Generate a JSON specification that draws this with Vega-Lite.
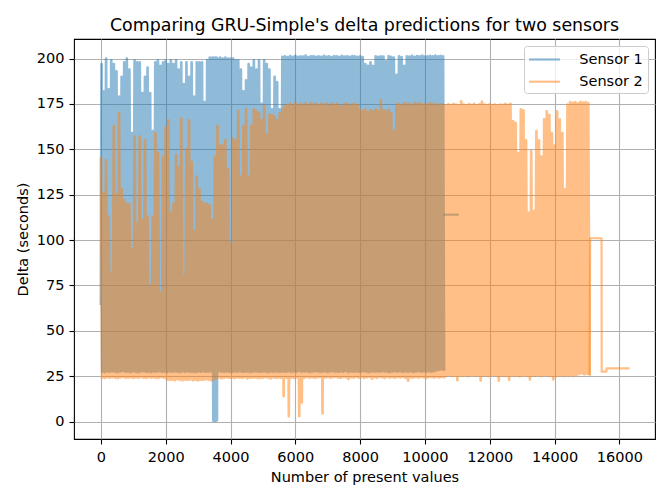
{
  "$schema": "https://vega.github.io/schema/vega-lite/v6.json",
  "width": 581,
  "height": 400,
  "autosize": {"type": "none"},
  "padding": {"left": 74, "top": 39, "right": 13, "bottom": 60},
  "background": "white",
  "title": {
    "text": "Comparing GRU-Simple's delta predictions for two sensors",
    "font": "DejaVu Sans",
    "fontSize": 17.4,
    "fontWeight": "normal",
    "color": "black",
    "anchor": "middle",
    "offset": 5
  },
  "config": {
    "view": {"stroke": "black", "strokeWidth": 1.1},
    "axis": {
      "labelFont": "DejaVu Sans",
      "labelFontSize": 14.5,
      "labelColor": "black",
      "titleFont": "DejaVu Sans",
      "titleFontSize": 14.5,
      "titleFontWeight": "normal",
      "titleColor": "black",
      "tickColor": "black",
      "tickSize": 5,
      "tickWidth": 1.1,
      "labelPadding": 5,
      "domain": false,
      "grid": true,
      "gridColor": "#b0b0b0",
      "gridWidth": 1.1,
      "labelFlush": false,
      "labelOverlap": false
    },
    "axisX": {"titlePadding": 7, "labelPadding": 6},
    "axisY": {"titlePadding": 6},
    "legend": {
      "orient": "top-right",
      "offset": 7,
      "symbolType": "M-2,0H2",
      "symbolSize": 240,
      "symbolOffset": 7,
      "symbolStrokeWidth": 2.17,
      "symbolOpacity": 0.5,
      "labelFont": "DejaVu Sans",
      "labelFontSize": 14.5,
      "labelColor": "black",
      "labelOffset": 25.8,
      "padding": 4.5,
      "rowPadding": 6.2,
      "fillColor": "rgba(255,255,255,0.8)",
      "strokeColor": "#cccccc",
      "cornerRadius": 3
    }
  },
  "datasets": {
    "sensor1": [
      {"x":0,"y":65},{"x":20,"y":197},{"x":40,"y":27.5},
      {"x":80,"y":182},{"x":120,"y":27.3},{"x":160,"y":200},{"x":200,"y":27.6},{"x":240,"y":183},{"x":280,"y":27.4},
      {"x":320,"y":199},{"x":360,"y":27.8},{"x":400,"y":197},{"x":440,"y":27.5},{"x":480,"y":193},{"x":520,"y":27.2},
      {"x":560,"y":179},{"x":600,"y":27.6},{"x":640,"y":190},{"x":680,"y":27.9},{"x":720,"y":198},{"x":760,"y":27.4},
      {"x":800,"y":200},{"x":840,"y":27.5},{"x":880,"y":194},{"x":920,"y":27.3},{"x":960,"y":159},{"x":1000,"y":27.7},
      {"x":1040,"y":199},{"x":1080,"y":27.5},{"x":1120,"y":198},{"x":1160,"y":27.2},{"x":1200,"y":198},{"x":1240,"y":27.6},
      {"x":1280,"y":181},{"x":1320,"y":27.8},{"x":1360,"y":190},{"x":1400,"y":27.4},{"x":1440,"y":195},{"x":1480,"y":27.5},
      {"x":1520,"y":181},{"x":1560,"y":27.3},{"x":1600,"y":160},{"x":1640,"y":27.6},{"x":1680,"y":198},{"x":1720,"y":27.5},
      {"x":1760,"y":199},{"x":1800,"y":27.8},{"x":1840,"y":196},{"x":1880,"y":27.4},{"x":1920,"y":198},{"x":1960,"y":27.5},
      {"x":2000,"y":199},{"x":2040,"y":27.2},{"x":2080,"y":197},{"x":2120,"y":27.6},{"x":2160,"y":199},{"x":2200,"y":27.4},
      {"x":2240,"y":197},{"x":2280,"y":27.7},{"x":2320,"y":199},{"x":2360,"y":27.5},{"x":2400,"y":194},{"x":2440,"y":27.3},
      {"x":2480,"y":198},{"x":2520,"y":27.6},{"x":2560,"y":186},{"x":2600,"y":27.5},{"x":2640,"y":198},{"x":2680,"y":27.8},
      {"x":2720,"y":190},{"x":2760,"y":27.4},{"x":2800,"y":198},{"x":2840,"y":27.5},{"x":2880,"y":179},{"x":2920,"y":27.3},
      {"x":2960,"y":198},{"x":3000,"y":27.6},{"x":3040,"y":198},{"x":3080,"y":27.5},{"x":3120,"y":198},{"x":3160,"y":27.7},
      {"x":3200,"y":176},{"x":3240,"y":27.4},{"x":3280,"y":199},{"x":3320,"y":27.5},{"x":3360,"y":200.5},{"x":3400,"y":27.6},
      {"x":3440,"y":200.5},{"x":3470,"y":0.5},{"x":3500,"y":200.5},{"x":3530,"y":0.3},{"x":3560,"y":200.5},{"x":3580,"y":0.6},
      {"x":3600,"y":200},{"x":3640,"y":27.8},
      {"x":3680,"y":200.5},{"x":3720,"y":27.5},{"x":3760,"y":200},{"x":3800,"y":27.4},{"x":3840,"y":200.5},{"x":3880,"y":27.6},
      {"x":3920,"y":200},{"x":3960,"y":27.5},{"x":4000,"y":200},{"x":4040,"y":27.3},{"x":4080,"y":200},{"x":4120,"y":27.6},
      {"x":4160,"y":199},{"x":4200,"y":27.5},{"x":4240,"y":199},{"x":4280,"y":27.8},{"x":4320,"y":194},{"x":4360,"y":27.4},
      {"x":4400,"y":182},{"x":4440,"y":27.5},{"x":4480,"y":188},{"x":4520,"y":27.6},{"x":4560,"y":197},{"x":4600,"y":27.3},
      {"x":4640,"y":195},{"x":4680,"y":27.5},{"x":4720,"y":199},{"x":4760,"y":27.7},{"x":4800,"y":194},{"x":4840,"y":27.5},
      {"x":4880,"y":199},{"x":4920,"y":27.4},{"x":4960,"y":175},{"x":5000,"y":27.6},{"x":5040,"y":199},{"x":5080,"y":27.5},
      {"x":5120,"y":197},{"x":5160,"y":27.3},{"x":5200,"y":194},{"x":5240,"y":27.6},{"x":5280,"y":172},{"x":5320,"y":27.5},
      {"x":5360,"y":190},{"x":5400,"y":27.8},{"x":5440,"y":187},{"x":5480,"y":27.4},{"x":5520,"y":172},{"x":5560,"y":27.5},
      {"x":5600,"y":201},{"x":5640,"y":27.6},
      {"x":5680,"y":201.2},{"x":5720,"y":27.5},{"x":5760,"y":200.8},{"x":5800,"y":27.8},{"x":5840,"y":201.4},{"x":5880,"y":27.3},
      {"x":5920,"y":201},{"x":5960,"y":27.6},{"x":6000,"y":201.5},{"x":6040,"y":27.5},{"x":6080,"y":200.9},{"x":6120,"y":27.9},
      {"x":6160,"y":201.3},{"x":6200,"y":27.4},{"x":6240,"y":201.1},{"x":6280,"y":27.6},{"x":6320,"y":201.6},{"x":6360,"y":27.7},
      {"x":6400,"y":200.8},{"x":6440,"y":27.3},{"x":6480,"y":201.2},{"x":6520,"y":27.5},{"x":6560,"y":201.4},{"x":6600,"y":27.8},
      {"x":6640,"y":201},{"x":6680,"y":27.6},{"x":6720,"y":201.3},{"x":6760,"y":27.4},{"x":6800,"y":200.9},{"x":6840,"y":27.5},
      {"x":6880,"y":201.5},{"x":6920,"y":27.7},{"x":6960,"y":201.1},{"x":7000,"y":27.3},{"x":7040,"y":201.3},{"x":7080,"y":27.6},
      {"x":7120,"y":200.8},{"x":7160,"y":27.8},{"x":7200,"y":201.4},{"x":7240,"y":27.5},{"x":7280,"y":201.2},{"x":7320,"y":27.4},
      {"x":7360,"y":201},{"x":7400,"y":27.6},{"x":7440,"y":201.5},{"x":7480,"y":27.5},{"x":7520,"y":201.1},{"x":7560,"y":27.9},
      {"x":7600,"y":201.3},{"x":7640,"y":27.3},{"x":7680,"y":200.9},{"x":7720,"y":27.6},{"x":7760,"y":201.4},{"x":7800,"y":27.5},
      {"x":7840,"y":201.2},{"x":7880,"y":27.7},{"x":7920,"y":201},{"x":7960,"y":27.4},{"x":8000,"y":201.3},{"x":8040,"y":27.6},
      {"x":8080,"y":200.8},{"x":8120,"y":27.8},{"x":8160,"y":197},{"x":8200,"y":27.5},{"x":8240,"y":196},{"x":8280,"y":27.3},
      {"x":8320,"y":198},{"x":8360,"y":27.6},{"x":8400,"y":196},{"x":8440,"y":27.5},{"x":8480,"y":201.2},{"x":8520,"y":27.7},
      {"x":8560,"y":200.9},{"x":8600,"y":27.4},{"x":8640,"y":201.3},{"x":8680,"y":27.8},{"x":8720,"y":201.1},{"x":8760,"y":27.6},
      {"x":8800,"y":198.5},{"x":8840,"y":27.5},{"x":8880,"y":201.4},{"x":8920,"y":27.3},{"x":8960,"y":201},{"x":9000,"y":27.6},
      {"x":9040,"y":200.5},{"x":9080,"y":27.7},{"x":9120,"y":191},{"x":9160,"y":27.5},{"x":9200,"y":201.2},{"x":9240,"y":27.8},
      {"x":9280,"y":200.8},{"x":9320,"y":27.4},{"x":9360,"y":196},{"x":9400,"y":27.6},{"x":9440,"y":201.3},{"x":9480,"y":27.5},
      {"x":9520,"y":201.1},{"x":9560,"y":27.7},{"x":9600,"y":201.5},{"x":9640,"y":27.3},{"x":9680,"y":201},{"x":9720,"y":27.6},
      {"x":9760,"y":201.4},{"x":9800,"y":27.8},{"x":9840,"y":201.2},{"x":9880,"y":27.5},{"x":9920,"y":201.6},{"x":9960,"y":27.6},
      {"x":10000,"y":201.1},{"x":10040,"y":27.4},{"x":10080,"y":201.3},{"x":10120,"y":27.7},{"x":10160,"y":201.5},{"x":10200,"y":27.5},
      {"x":10240,"y":201.2},{"x":10280,"y":27.8},{"x":10320,"y":201.6},{"x":10360,"y":28.2},{"x":10400,"y":201.3},{"x":10440,"y":28.5},
      {"x":10480,"y":201.5},{"x":10520,"y":28.7},{"x":10560,"y":201.2},{"x":10590,"y":28.7}
    ],
    "sensor1tail": [
      {"x":10600,"y":114},{"x":11010,"y":114}
    ],
    "sensor2": [
      {"x":0,"y":145},{"x":40,"y":24.3},{"x":80,"y":126},{"x":120,"y":24.0},{"x":160,"y":144},{"x":200,"y":24.4},
      {"x":240,"y":113},{"x":280,"y":24.1},{"x":320,"y":82},{"x":360,"y":24.5},{"x":400,"y":163},{"x":440,"y":24.2},
      {"x":480,"y":125},{"x":520,"y":23.9},{"x":560,"y":170},{"x":600,"y":24.3},{"x":640,"y":128},{"x":680,"y":24.6},
      {"x":720,"y":122},{"x":760,"y":24.1},{"x":800,"y":120},{"x":840,"y":24.2},{"x":880,"y":120},{"x":920,"y":24.4},
      {"x":960,"y":95},{"x":1000,"y":24.0},{"x":1040,"y":157},{"x":1080,"y":24.3},{"x":1120,"y":109},{"x":1160,"y":24.1},
      {"x":1200,"y":157},{"x":1240,"y":24.5},{"x":1280,"y":111},{"x":1320,"y":24.2},{"x":1360,"y":155},{"x":1400,"y":24.0},
      {"x":1440,"y":113},{"x":1480,"y":24.4},{"x":1520,"y":75},{"x":1560,"y":24.2},{"x":1600,"y":113},{"x":1640,"y":24.3},
      {"x":1680,"y":159},{"x":1720,"y":23.9},{"x":1760,"y":148},{"x":1800,"y":24.1},{"x":1840,"y":71},{"x":1880,"y":24.4},
      {"x":1920,"y":146},{"x":1960,"y":24.2},{"x":2000,"y":162},{"x":2040,"y":23.2},{"x":2080,"y":166},{"x":2120,"y":22.9},
      {"x":2160,"y":115},{"x":2200,"y":23.1},{"x":2240,"y":120},{"x":2280,"y":22.8},{"x":2320,"y":147},{"x":2360,"y":23.3},
      {"x":2400,"y":140},{"x":2440,"y":23.0},{"x":2480,"y":167},{"x":2520,"y":22.7},{"x":2560,"y":80},{"x":2600,"y":23.1},
      {"x":2640,"y":150},{"x":2680,"y":22.9},{"x":2720,"y":166},{"x":2760,"y":23.2},{"x":2800,"y":143},{"x":2840,"y":22.8},
      {"x":2880,"y":105},{"x":2920,"y":23.0},{"x":2960,"y":135},{"x":3000,"y":22.6},{"x":3040,"y":128},{"x":3080,"y":23.1},
      {"x":3120,"y":121},{"x":3160,"y":22.9},{"x":3200,"y":120},{"x":3240,"y":23.3},{"x":3280,"y":120},{"x":3320,"y":23.0},
      {"x":3360,"y":119},{"x":3400,"y":22.8},{"x":3440,"y":111},{"x":3480,"y":23.1},{"x":3520,"y":146},{"x":3560,"y":24.0},
      {"x":3600,"y":163},{"x":3640,"y":24.3},{"x":3680,"y":152},{"x":3720,"y":23.8},{"x":3760,"y":152},{"x":3800,"y":24.1},
      {"x":3840,"y":155},{"x":3880,"y":24.4},{"x":3920,"y":139},{"x":3960,"y":24.0},{"x":4000,"y":98},{"x":4040,"y":24.2},
      {"x":4080,"y":156},{"x":4120,"y":23.9},{"x":4160,"y":155},{"x":4200,"y":24.3},{"x":4240,"y":171},{"x":4280,"y":24.1},
      {"x":4320,"y":135},{"x":4360,"y":24.0},{"x":4400,"y":163},{"x":4440,"y":24.4},{"x":4480,"y":172},{"x":4520,"y":23.8},
      {"x":4560,"y":135},{"x":4600,"y":24.2},{"x":4640,"y":163},{"x":4680,"y":24.1},{"x":4720,"y":172},{"x":4760,"y":24.3},
      {"x":4800,"y":171},{"x":4840,"y":23.9},{"x":4880,"y":170},{"x":4920,"y":24.0},{"x":4960,"y":166},{"x":5000,"y":24.2},
      {"x":5040,"y":174},{"x":5080,"y":24.4},{"x":5120,"y":158},{"x":5160,"y":24.1},{"x":5200,"y":169},{"x":5240,"y":23.8},
      {"x":5280,"y":169},{"x":5320,"y":24.3},{"x":5360,"y":168},{"x":5400,"y":24.0},{"x":5440,"y":166},{"x":5480,"y":24.2},
      {"x":5520,"y":170},{"x":5560,"y":24.1},{"x":5600,"y":172},{"x":5640,"y":14},{"x":5680,"y":174},{"x":5720,"y":24.1},
      {"x":5760,"y":174.5},{"x":5800,"y":3},{"x":5840,"y":175},{"x":5880,"y":24.2},{"x":5920,"y":174},{"x":5960,"y":24.0},
      {"x":6000,"y":175.5},{"x":6040,"y":24.3},{"x":6080,"y":174.2},{"x":6120,"y":3},{"x":6160,"y":175},{"x":6200,"y":10.5},
      {"x":6240,"y":174.6},{"x":6280,"y":24.2},{"x":6320,"y":175.3},{"x":6360,"y":24.5},{"x":6400,"y":174},{"x":6440,"y":24.1},
      {"x":6480,"y":175.6},{"x":6520,"y":24.4},{"x":6560,"y":174.8},{"x":6600,"y":24.0},{"x":6640,"y":175.2},{"x":6680,"y":24.3},
      {"x":6720,"y":174.3},{"x":6760,"y":24.6},{"x":6800,"y":175},{"x":6840,"y":4.5},{"x":6880,"y":174.6},{"x":6920,"y":24.2},
      {"x":6960,"y":175.4},{"x":7000,"y":24.5},{"x":7040,"y":173.8},{"x":7080,"y":24.1},{"x":7120,"y":175.1},{"x":7160,"y":24.4},
      {"x":7200,"y":174.5},{"x":7240,"y":24.6},{"x":7280,"y":175.3},{"x":7320,"y":24.2},{"x":7360,"y":174.2},{"x":7400,"y":24.0},
      {"x":7440,"y":173.5},{"x":7480,"y":24.5},{"x":7520,"y":174.8},{"x":7560,"y":24.3},{"x":7600,"y":175.2},{"x":7640,"y":23.4},
      {"x":7680,"y":174},{"x":7720,"y":24.4},{"x":7760,"y":174.7},{"x":7800,"y":24.1},{"x":7840,"y":175},{"x":7880,"y":24.6},
      {"x":7920,"y":174.3},{"x":7960,"y":24.2},{"x":8000,"y":171.5},{"x":8040,"y":24.5},{"x":8080,"y":171},{"x":8120,"y":24.0},
      {"x":8160,"y":172},{"x":8200,"y":24.3},{"x":8240,"y":170.5},{"x":8280,"y":24.6},{"x":8320,"y":171.5},{"x":8360,"y":23.6},
      {"x":8400,"y":171},{"x":8440,"y":24.4},{"x":8480,"y":172},{"x":8520,"y":24.1},{"x":8560,"y":171},{"x":8600,"y":24.5},
      {"x":8640,"y":177},{"x":8680,"y":24.3},{"x":8720,"y":171.5},{"x":8760,"y":24.0},{"x":8800,"y":171},{"x":8840,"y":24.6},
      {"x":8880,"y":172},{"x":8920,"y":24.2},{"x":8960,"y":170},{"x":9000,"y":24.4},{"x":9040,"y":160},{"x":9080,"y":24.1},
      {"x":9120,"y":174.5},{"x":9160,"y":24.5},{"x":9200,"y":175},{"x":9240,"y":24.3},{"x":9280,"y":174.2},{"x":9320,"y":24.6},
      {"x":9360,"y":175.5},{"x":9400,"y":24.0},{"x":9440,"y":174.8},{"x":9480,"y":22.5},{"x":9520,"y":175.2},{"x":9560,"y":24.4},
      {"x":9600,"y":174.4},{"x":9640,"y":24.2},{"x":9680,"y":175.6},{"x":9720,"y":24.5},{"x":9760,"y":174.9},{"x":9800,"y":24.1},
      {"x":9840,"y":175.3},{"x":9880,"y":24.6},{"x":9920,"y":174.5},{"x":9960,"y":24.3},{"x":10000,"y":175},{"x":10040,"y":24.0},
      {"x":10080,"y":174.7},{"x":10120,"y":24.4},{"x":10160,"y":175.4},{"x":10200,"y":24.6},{"x":10240,"y":174.6},{"x":10280,"y":24.2},
      {"x":10320,"y":175.1},{"x":10360,"y":24.5},{"x":10400,"y":174.3},{"x":10440,"y":24.3},{"x":10480,"y":174.9},{"x":10520,"y":24.6},
      {"x":10560,"y":174.5},{"x":10600,"y":24.4},{"x":10640,"y":174.2},{"x":10680,"y":25.3},{"x":10720,"y":174.8},{"x":10760,"y":25.6},
      {"x":10800,"y":174.4},{"x":10840,"y":25.1},{"x":10880,"y":175},{"x":10920,"y":25.4},{"x":10960,"y":174.6},{"x":11000,"y":22.8},
      {"x":11040,"y":174.1},{"x":11080,"y":25.5},{"x":11120,"y":176.5},{"x":11160,"y":25.2},{"x":11200,"y":174.7},{"x":11240,"y":25.6},
      {"x":11280,"y":174.3},{"x":11320,"y":25.0},{"x":11360,"y":174.9},{"x":11400,"y":25.4},{"x":11440,"y":174.5},{"x":11480,"y":25.7},
      {"x":11520,"y":175.1},{"x":11560,"y":25.2},{"x":11600,"y":174.2},{"x":11640,"y":25.5},{"x":11680,"y":174.8},{"x":11720,"y":22.6},
      {"x":11760,"y":176.3},{"x":11800,"y":25.3},{"x":11840,"y":174.6},{"x":11880,"y":25.6},{"x":11920,"y":174.3},{"x":11960,"y":25.1},
      {"x":12000,"y":174.9},{"x":12040,"y":25.4},{"x":12080,"y":174.4},{"x":12120,"y":25.7},{"x":12160,"y":174.7},{"x":12200,"y":25.2},
      {"x":12240,"y":174.2},{"x":12280,"y":22.5},{"x":12320,"y":174.7},{"x":12360,"y":25.5},{"x":12400,"y":174.5},{"x":12440,"y":25.1},
      {"x":12480,"y":175},{"x":12520,"y":25.4},{"x":12560,"y":174.5},{"x":12600,"y":23.0},{"x":12640,"y":175},{"x":12680,"y":25.6},
      {"x":12720,"y":165.6},{"x":12760,"y":25.2},{"x":12800,"y":164.6},{"x":12840,"y":25.5},{"x":12880,"y":148},{"x":12920,"y":25.0},
      {"x":12960,"y":172},{"x":13000,"y":25.4},{"x":13040,"y":171.5},{"x":13080,"y":25.7},{"x":13120,"y":155},{"x":13160,"y":25.2},
      {"x":13200,"y":115},{"x":13240,"y":23.2},{"x":13280,"y":149},{"x":13320,"y":25.5},{"x":13360,"y":116},{"x":13400,"y":25.3},
      {"x":13440,"y":160},{"x":13480,"y":25.6},{"x":13520,"y":155},{"x":13560,"y":25.1},{"x":13600,"y":146},{"x":13640,"y":25.4},
      {"x":13680,"y":166.5},{"x":13720,"y":25.7},{"x":13760,"y":171},{"x":13800,"y":25.2},{"x":13840,"y":169},{"x":13880,"y":25.5},
      {"x":13920,"y":159},{"x":13960,"y":23.3},{"x":14000,"y":152},{"x":14040,"y":25.0},{"x":14080,"y":171},{"x":14120,"y":25.4},
      {"x":14160,"y":166.5},{"x":14200,"y":25.6},{"x":14240,"y":159},{"x":14280,"y":25.2},{"x":14320,"y":128},{"x":14360,"y":25.5},
      {"x":14400,"y":174.7},{"x":14440,"y":25.3},{"x":14480,"y":176},{"x":14520,"y":25.7},{"x":14560,"y":175.6},{"x":14600,"y":25.1},
      {"x":14640,"y":176},{"x":14680,"y":25.4},{"x":14720,"y":175.4},{"x":14760,"y":26.2},{"x":14800,"y":176.2},{"x":14840,"y":26.5},
      {"x":14880,"y":175.7},{"x":14920,"y":26.0},{"x":14960,"y":176},{"x":15000,"y":26.4},{"x":15040,"y":175.5},{"x":15080,"y":26.1}
    ],
    "sensor2tail": [
      {"x":15080,"y":26.1},{"x":15100,"y":101},{"x":15450,"y":101},{"x":15455,"y":27.5},{"x":15600,"y":27.5},{"x":15605,"y":29.3},{"x":16280,"y":29.3}
    ]
  },
  "encoding": {
    "x": {
      "field": "x",
      "type": "quantitative",
      "scale": {"domain": [-830, 17100], "nice": false, "zero": false},
      "axis": {
        "title": "Number of present values",
        "values": [0, 2000, 4000, 6000, 8000, 10000, 12000, 14000, 16000],
        "format": "d"
      }
    },
    "y": {
      "field": "y",
      "type": "quantitative",
      "scale": {"domain": [-9.6, 210.8], "nice": false, "zero": false},
      "axis": {
        "title": "Delta (seconds)",
        "values": [0, 25, 50, 75, 100, 125, 150, 175, 200]
      }
    }
  },
  "layer": [
    {
      "data": {"name": "sensor1"},
      "mark": {"type": "line", "strokeWidth": 2.7, "opacity": 0.5, "strokeJoin": "round", "strokeCap": "square"},
      "encoding": {
        "color": {
          "datum": "Sensor 1",
          "type": "nominal",
          "scale": {"domain": ["Sensor 1", "Sensor 2"], "range": ["#1f77b4", "#ff7f0e"]},
          "legend": {"title": null}
        }
      }
    },
    {
      "data": {"name": "sensor1tail"},
      "mark": {"type": "line", "strokeWidth": 2.17, "opacity": 0.5, "strokeJoin": "round", "strokeCap": "square"},
      "encoding": {
        "color": {"datum": "Sensor 1", "type": "nominal"}
      }
    },
    {
      "data": {"name": "sensor2"},
      "mark": {"type": "line", "strokeWidth": 2.7, "opacity": 0.5, "strokeJoin": "round", "strokeCap": "square"},
      "encoding": {
        "color": {"datum": "Sensor 2", "type": "nominal"}
      }
    },
    {
      "data": {"name": "sensor2tail"},
      "mark": {"type": "line", "strokeWidth": 2.17, "opacity": 0.5, "strokeJoin": "round", "strokeCap": "square"},
      "encoding": {
        "color": {"datum": "Sensor 2", "type": "nominal"}
      }
    }
  ]
}
